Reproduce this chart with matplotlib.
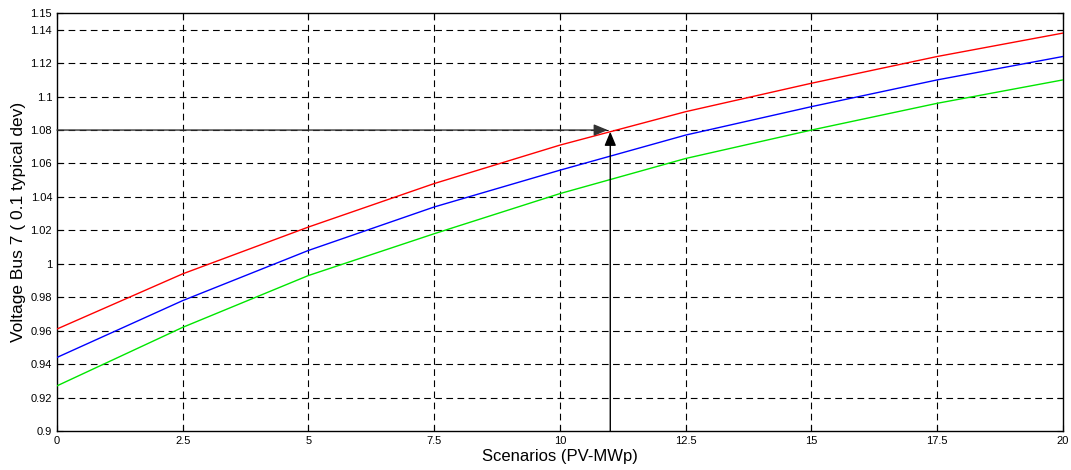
import numpy as np
import matplotlib.pyplot as plt

plt.rcParams['font.family'] = ['Liberation Sans', 'DejaVu Sans']

# PV scenarios (MWp) and bus 7 voltage
pv = [0, 2.5, 5, 7.5, 10, 12.5, 15, 17.5, 20]
v_red = [0.961, 0.994, 1.022, 1.048, 1.071, 1.091, 1.108, 1.124, 1.138]
v_blue = [0.944, 0.978, 1.008, 1.034, 1.056, 1.077, 1.094, 1.110, 1.124]
v_green = [0.927, 0.962, 0.993, 1.018, 1.042, 1.063, 1.080, 1.096, 1.110]

x_mark = 11
y_mark = 1.08

xticks = [0, 2.5, 5, 7.5, 10, 12.5, 15, 17.5, 20]
xtick_labels = ['0', '2.5', '5', '7.5', '10', '12.5', '15', '17.5', '20']
yticks = [0.9, 0.92, 0.94, 0.96, 0.98, 1, 1.02, 1.04, 1.06, 1.08,
          1.1, 1.12, 1.14, 1.15]
ytick_labels = ['0.9', '0.92', '0.94', '0.96', '0.98', '1', '1.02', '1.04',
                '1.06', '1.08', '1.1', '1.12', '1.14', '1.15']

fig = plt.figure(figsize=(10.71, 4.70), dpi=100)
ax = fig.add_axes([0.0532, 0.083, 0.9393, 0.8893])

# grid drawn by hand so it can skip the box edges
for gx in xticks[1:-1]:
    ax.axvline(gx, color='black', linestyle=(0, (6, 4)), linewidth=0.8, zorder=1)
for gy in yticks[1:-1]:
    ax.axhline(gy, color='black', linestyle=(0, (6, 4)), linewidth=0.8, zorder=1)

ax.plot(pv, v_red, color='#ff0000', linewidth=1.0, zorder=3)
ax.plot(pv, v_blue, color='#0000ff', linewidth=1.0, zorder=3)
ax.plot(pv, v_green, color='#00e600', linewidth=1.0, zorder=3)

# arrows marking the 1.08 p.u. crossing
head = '-|>,head_length=0.6,head_width=0.25'
ax.annotate('', xy=(x_mark - 0.05, y_mark), xytext=(0, y_mark),
            arrowprops=dict(arrowstyle=head, color='#333333', lw=1.0,
                            mutation_scale=14, shrinkA=0, shrinkB=0), zorder=4)
ax.annotate('', xy=(x_mark, y_mark - 0.001), xytext=(x_mark, 0.9),
            arrowprops=dict(arrowstyle=head, color='black', lw=1.0,
                            mutation_scale=14, shrinkA=0, shrinkB=0), zorder=4)

ax.set_xlim(0, 20)
ax.set_ylim(0.9, 1.15)
ax.set_xticks(xticks)
ax.set_xticklabels(xtick_labels)
ax.set_yticks(yticks)
ax.set_yticklabels(ytick_labels)
ax.tick_params(direction='in', top=True, right=True, labelsize=8,
               length=4, width=0.8)
for s in ax.spines.values():
    s.set_linewidth(1.0)

ax.set_xlabel('Scenarios (PV-MWp)', fontsize=12, labelpad=2)
ax.set_ylabel('Voltage Bus 7 ( 0.1 typical dev)', fontsize=12.5, labelpad=3)

fig.savefig('out.png', dpi=100)
